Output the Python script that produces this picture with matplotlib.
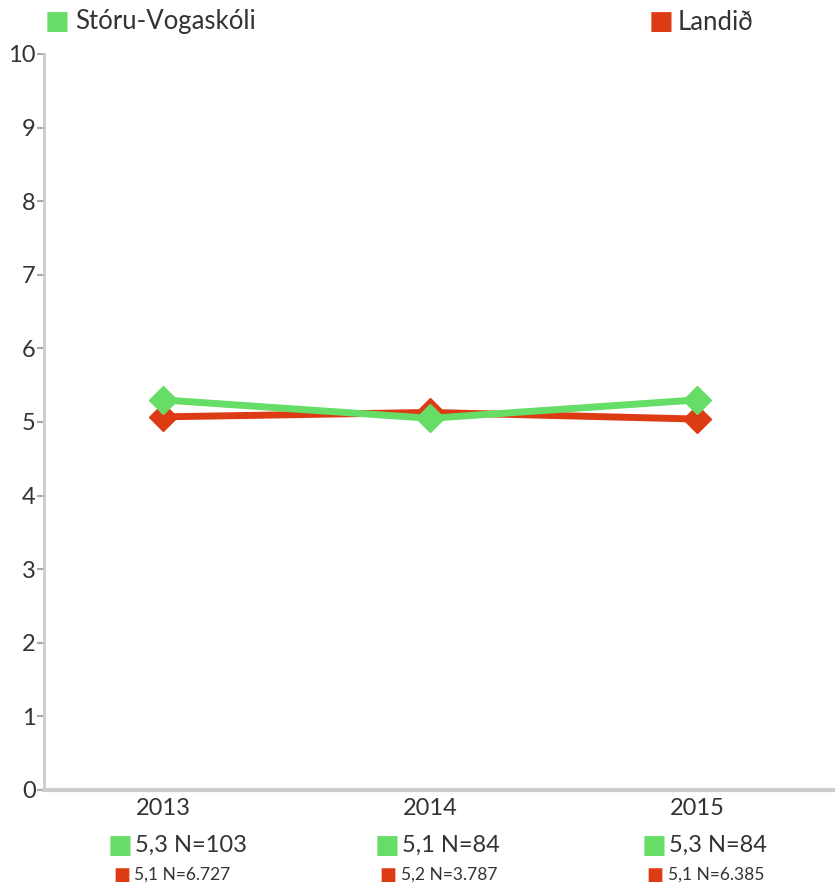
import numpy as np
import matplotlib.pyplot as plt

plt.rcParams['font.family'] = ['Lato', 'DejaVu Sans']

years = ['2013', '2014', '2015']
school = [5.30, 5.05, 5.30]
country = [5.07, 5.13, 5.04]
school_labels = ['5,3 N=103', '5,1 N=84', '5,3 N=84']
country_labels = ['5,1 N=6.727', '5,2 N=3.787', '5,1 N=6.385']
school_name = 'Stóru-Vogaskóli'
country_name = 'Landið'

green = '#66dd66'
red = '#dd3b14'
grey = '#cccccc'
txt = '#333333'

fig = plt.figure(figsize=(8.35, 8.86), dpi=100)
ax = fig.add_axes([44 / 835, 1 - 790 / 886, 791 / 835, 736 / 886])

x = np.arange(len(years))
ax.plot(x, country, color=red, lw=5, marker='D', ms=14, zorder=3)
ax.plot(x, school, color=green, lw=5, marker='D', ms=14, zorder=4)

ax.set_ylim(0, 10)
ax.set_xlim(-0.446, 2.517)
ax.set_yticks(range(0, 11))
ax.set_yticklabels([str(i) for i in range(0, 11)], fontsize=17, color=txt)
ax.tick_params(axis='y', length=5, width=1.5, color='#aaaaaa', pad=1)
ax.set_xticks(x)
ax.set_xticklabels(years, fontsize=17, color=txt)
ax.tick_params(axis='x', length=0, pad=6)

for s in ['top', 'right']:
    ax.spines[s].set_visible(False)
ax.spines['left'].set_color(grey)
ax.spines['left'].set_linewidth(2)
ax.spines['bottom'].set_color(grey)
ax.spines['bottom'].set_linewidth(3)

# annotations under the x axis (offsets in points, 1pt = 1.39px)
for i in range(len(years)):
    pos = dict(xy=(x[i], 0), xycoords=('data', 'axes fraction'),
               textcoords='offset points', va='center')
    ax.annotate('■', xytext=(-31, -40), ha='center', fontsize=19,
                color=green, family='DejaVu Sans', **pos)
    ax.annotate(school_labels[i], xytext=(-20, -40), ha='left',
                fontsize=17, color=txt, **pos)
    ax.annotate('■', xytext=(-30, -61), ha='center', fontsize=13,
                color=red, family='DejaVu Sans', **pos)
    ax.annotate(country_labels[i], xytext=(-21, -61), ha='left',
                fontsize=12.5, color=txt, **pos)

# legend at the top
fig.text(57 / 835, 1 - 22 / 886, '■', color=green, fontsize=19, ha='center',
         va='center', family='DejaVu Sans')
fig.text(75 / 835, 1 - 22 / 886, school_name, color=txt, fontsize=18.5, va='center')
fig.text(661 / 835, 1 - 22 / 886, '■', color=red, fontsize=19, ha='center',
         va='center', family='DejaVu Sans')
fig.text(678 / 835, 1 - 22 / 886, country_name, color=txt, fontsize=18.5, va='center')

fig.savefig('out.png', dpi=100)
